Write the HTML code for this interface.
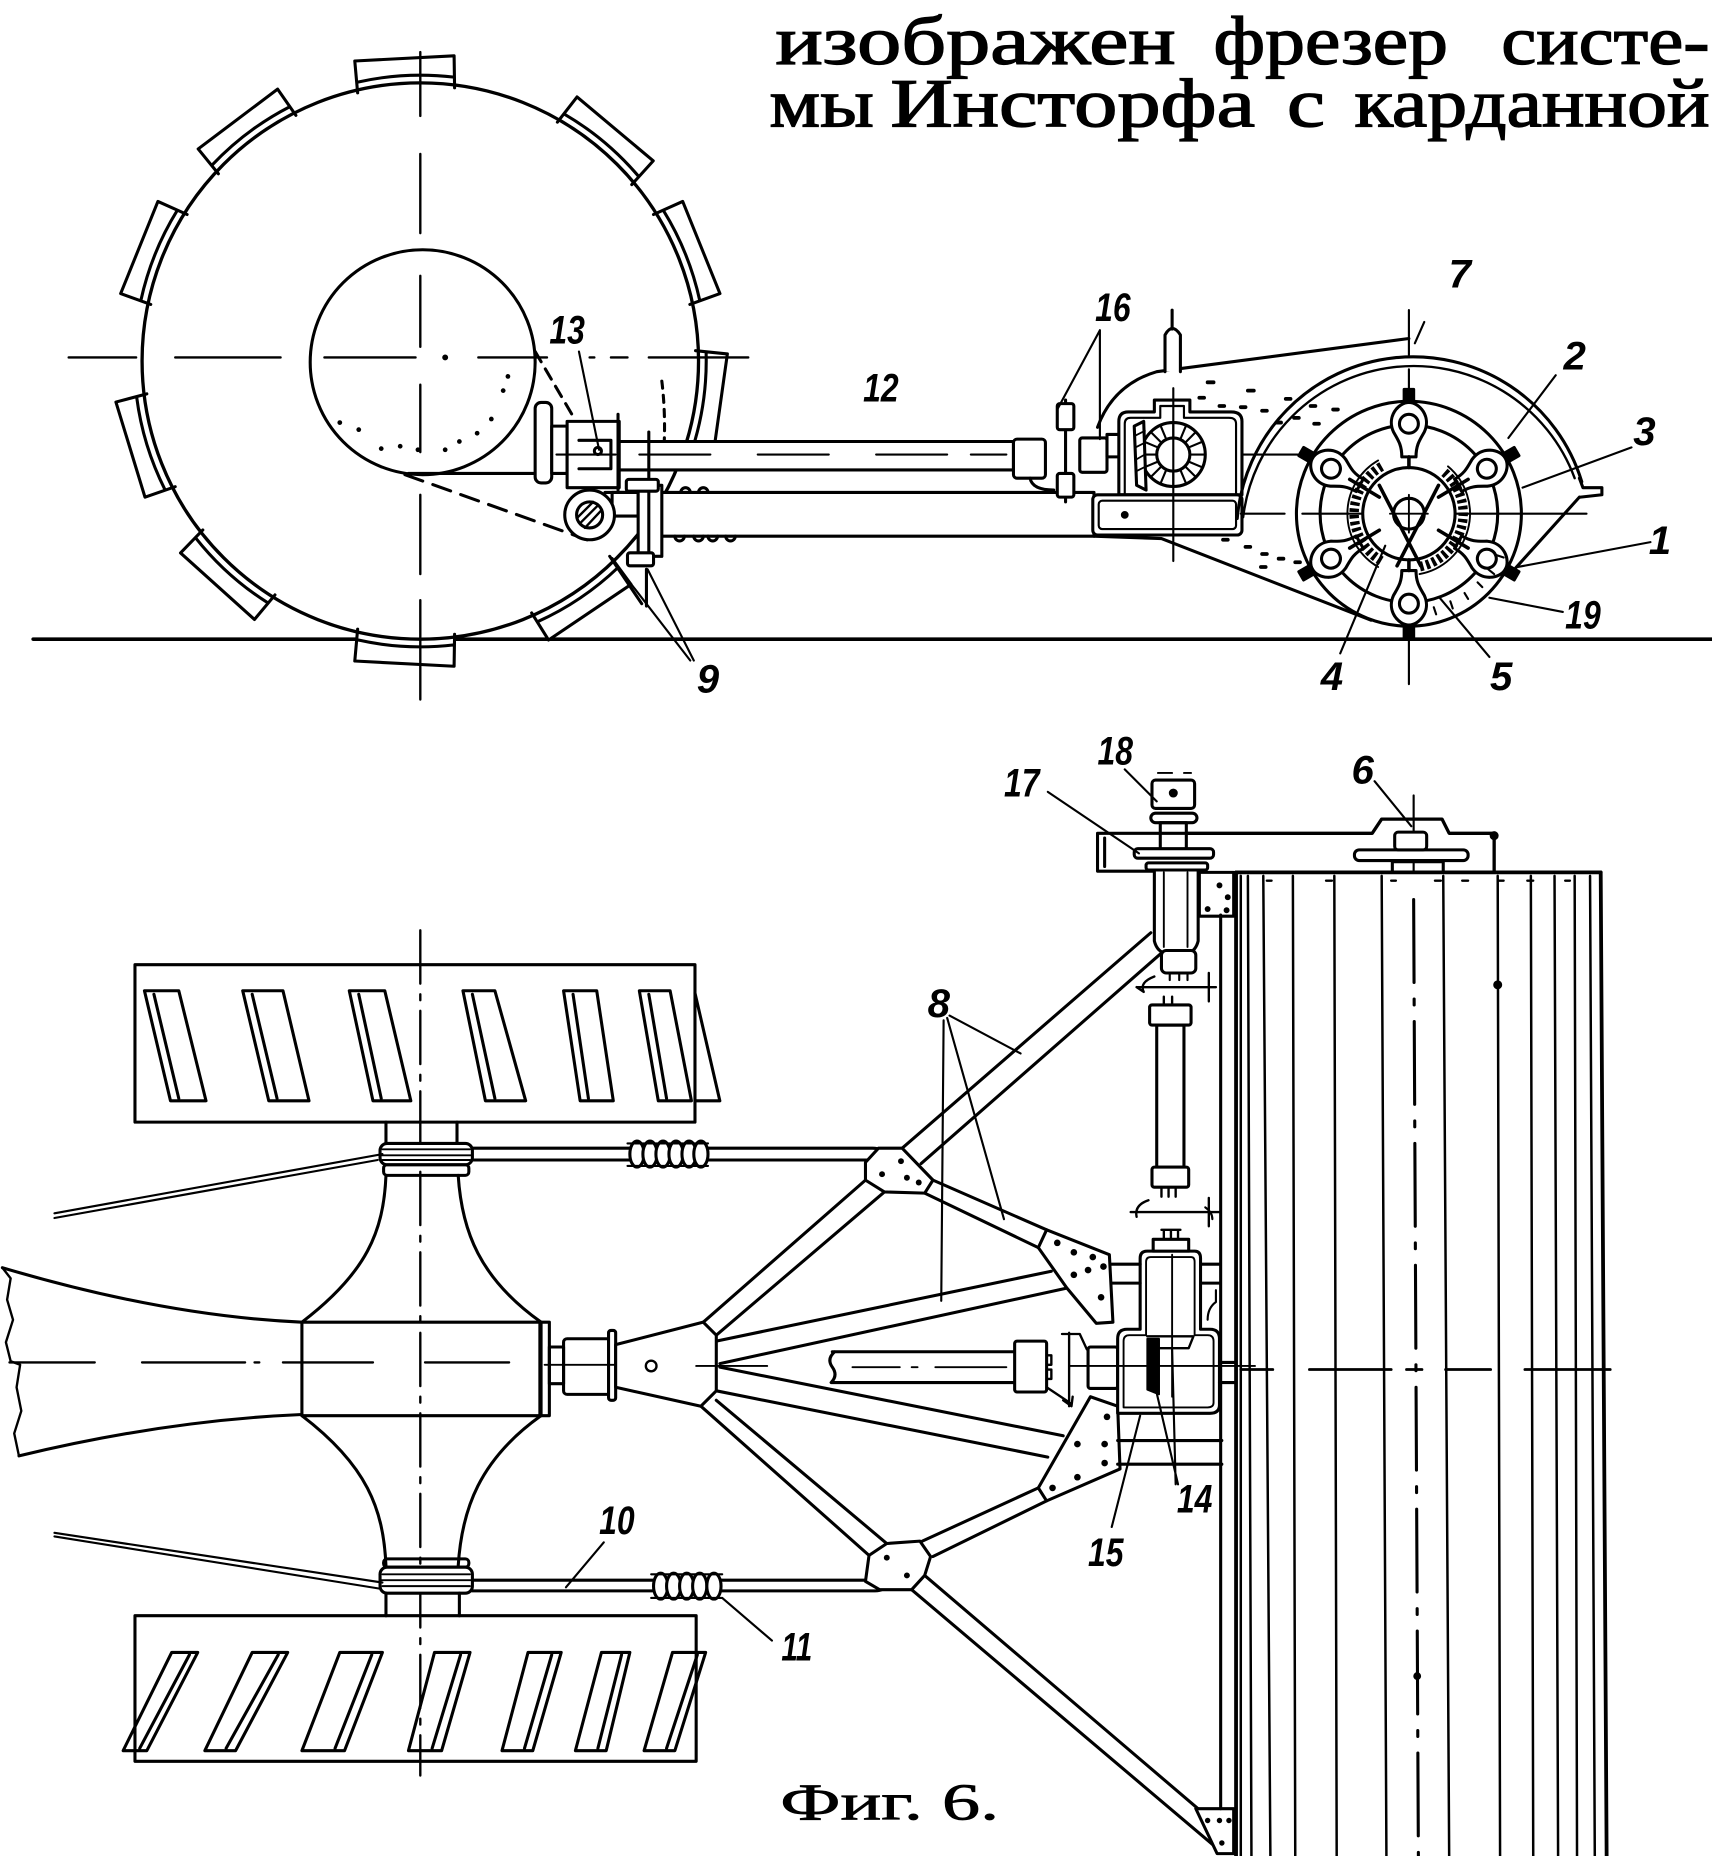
<!DOCTYPE html>
<html><head><meta charset="utf-8">
<style>
html,body{margin:0;padding:0;background:#fff;width:1712px;height:1856px;overflow:hidden}
svg{display:block}
</style></head><body>
<svg xmlns="http://www.w3.org/2000/svg" width="1712" height="1856" viewBox="0 0 1446 1568" preserveAspectRatio="none">
<rect width="1446" height="1568" fill="#fff"/>

<!-- heading text -->
<g font-family="'Liberation Serif','DejaVu Serif',serif" font-size="58" fill="#000" stroke="#000" stroke-width="1.1">
<text x="655" y="54" textLength="338" lengthAdjust="spacingAndGlyphs">изображен</text>
<text x="1025" y="54" textLength="198" lengthAdjust="spacingAndGlyphs">фрезер</text>
<text x="1268" y="54" textLength="176" lengthAdjust="spacingAndGlyphs">систе-</text>
<text x="650" y="107" textLength="88" lengthAdjust="spacingAndGlyphs">мы</text>
<text x="752" y="107" textLength="308" lengthAdjust="spacingAndGlyphs">Инсторфа</text>
<text x="1087" y="107" textLength="32" lengthAdjust="spacingAndGlyphs">с</text>
<text x="1144" y="107" textLength="300" lengthAdjust="spacingAndGlyphs">карданной</text>
</g>

<g fill="none" stroke="#000" stroke-width="2.6" stroke-linecap="round" stroke-linejoin="round">

<!-- ================= SIDE VIEW ================= -->
<line x1="28" y1="540" x2="1446" y2="540" stroke-width="3"/>

<!-- wheel lugs -->
<g fill="#fff">
<path transform="rotate(-3 355 305)" d="M314 76 L313 49 L397 49 L396 76 M314 67 Q355 60 396 67"/>
<path transform="rotate(-37 355 305)" d="M314 76 L313 49 L397 49 L396 76 M314 67 Q355 60 396 67"/>
<path transform="rotate(-68 355 305)" d="M314 76 L313 49 L397 49 L396 76 M314 67 Q355 60 396 67"/>
<path transform="rotate(-107 355 305)" d="M314 76 L313 49 L397 49 L396 76 M314 67 Q355 60 396 67"/>
<path transform="rotate(-138 355 305)" d="M314 76 L313 49 L397 49 L396 76 M314 67 Q355 60 396 67"/>
<path transform="rotate(183 355 305)" d="M314 76 L313 49 L397 49 L396 76 M314 67 Q355 60 396 67"/>
<path transform="rotate(146 355 305)" d="M314 76 L313 49 L397 49 L396 76 M314 67 Q355 60 396 67"/>
<path transform="rotate(98 355 305)" d="M314 76 L313 49 L397 49 L396 76 M314 67 Q355 60 396 67"/>
<path transform="rotate(68 355 305)" d="M314 76 L313 49 L397 49 L396 76 M314 67 Q355 60 396 67"/>
<path transform="rotate(40 355 305)" d="M314 76 L313 49 L397 49 L396 76 M314 67 Q355 60 396 67"/>
</g>
<circle cx="355" cy="305" r="235" stroke-width="2.8"/>
<circle cx="357" cy="306" r="95"/>
<!-- wheel centerlines -->
<path stroke-width="2" d="M58 302 H115 M148 302 H237 M274 302 H351 M404 302 H462 M498 302 H502 M516 302 H530 M548 302 H632"/>
<circle cx="376" cy="302" r="2.5" fill="#000" stroke="none"/>
<path stroke-width="2" d="M355 44 V98 M355 130 V197 M355 233 V293 M355 325 V382 M355 418 V485 M355 507 V591"/>
<!-- hub details -->
<path d="M345 400 H455"/>
<path d="M342 401 L496 456" stroke-dasharray="16 9"/>
<path d="M452 297 L483 350" stroke-dasharray="10 7"/>
<path d="M559 322 Q563 355 560 390" stroke-dasharray="6 6"/>
<g fill="#000" stroke="none">
<circle cx="429" cy="318" r="2"/><circle cx="425" cy="330" r="2"/><circle cx="415" cy="354" r="2"/>
<circle cx="403" cy="366" r="2"/><circle cx="388" cy="373" r="2"/><circle cx="376" cy="380" r="2"/>
<circle cx="353" cy="380" r="2"/><circle cx="338" cy="377" r="2"/><circle cx="322" cy="379" r="2"/>
<circle cx="303" cy="363" r="2"/><circle cx="287" cy="357" r="2"/>
</g>

<!-- flange, block 13, shaft 12 -->
<rect x="452" y="340" width="14" height="68" rx="5" fill="#fff"/>
<rect x="466" y="360" width="13" height="40" fill="#fff"/>
<rect x="479" y="356" width="44" height="56" fill="#fff"/>
<path d="M489 372 H516 V396 H489"/>
<circle cx="505" cy="381" r="3"/>
<rect x="523" y="373" width="333" height="24" fill="#fff"/>
<path stroke-width="1.8" d="M470 384 H520 M540 384 H600 M640 384 H700 M740 384 H800 M820 384 H850"/>
<path d="M522 350 V414"/>
<!-- lower beam -->
<rect x="558" y="416" width="366" height="37" fill="#fff"/>
<path d="M511 416 H558"/>
<path d="M570 453 a4 4 0 0 0 8 0 M586 453 a4 4 0 0 0 8 0 M598 453 a4 4 0 0 0 8 0 M613 453 a4 4 0 0 0 8 0"/>
<path d="M575 416 a4 4 0 0 1 8 0 M590 416 a4 4 0 0 1 8 0"/>
<!-- eye + plate -->
<rect x="517" y="416" width="22" height="20" fill="#fff"/>
<rect x="539" y="410" width="20" height="60" fill="#fff"/>
<path d="M548 365 V475"/>
<rect x="529" y="405" width="27" height="10" rx="2" fill="#fff"/>
<rect x="530" y="467" width="22" height="11" rx="2" fill="#fff"/>
<circle cx="498" cy="435" r="21" fill="#fff"/>
<circle cx="498" cy="435" r="11"/>
<path stroke-width="2" d="M490 442 L505 427 M494 446 L508 431 M488 437 L501 424"/>
<path d="M515 470 L542 510 M546 481 V512"/>

<!-- joint 16 -->
<rect x="856" y="371" width="27" height="33" rx="3" fill="#fff"/>
<path d="M870 404 Q872 414 890 414"/>
<path d="M900 338 V424"/>
<rect x="893" y="341" width="14" height="22" rx="2" fill="#fff"/>
<rect x="893" y="400" width="14" height="20" rx="2" fill="#fff"/>
<rect x="912" y="370" width="23" height="29" rx="2" fill="#fff"/>
<rect x="935" y="367" width="20" height="19" fill="#fff"/>

<!-- housing upper line and post -->
<path d="M927 361 Q940 325 977 314 L1190 286"/>
<path fill="#fff" d="M984 314 V283 Q990 272 997 283 V314"/>
<path d="M990 262 V278"/>
<!-- gear housing -->
<path fill="#fff" d="M945 418 V356 Q945 348 953 348 H975 V338 H1005 V348 H1040 Q1049 348 1049 356 V418 Z"/>
<path stroke-width="1.8" d="M950 418 V358 Q950 353 955 353 H980 V343 H1000 V353 H1038 Q1044 353 1044 358 V418"/>
<circle cx="991" cy="384" r="27" fill="#fff"/>
<circle cx="991" cy="384" r="14"/>
<path stroke-width="1.8" d="M1005 384 H1018 M977 384 H964 M991 370 V357 M991 398 V411 M1001 374 L1010 365 M981 374 L972 365 M1001 394 L1010 403 M981 394 L972 403 M1004 378 L1016 373 M1004 390 L1016 395 M978 378 L966 373 M978 390 L966 395 M985 371 L980 359 M997 371 L1002 359 M985 397 L980 409 M997 397 L1002 409"/>
<path fill="#fff" d="M958 360 L966 356 L968 414 L960 410 Z"/>
<path stroke-width="1.5" d="M959 368 L967 364 M959 378 L967 374 M960 388 L967 384 M960 398 L968 394"/>
<rect x="923" y="418" width="126" height="34" rx="4" fill="#fff"/>
<rect x="928" y="423" width="116" height="24" rx="3" stroke-width="1.8"/>
<circle cx="950" cy="435" r="2" fill="#000"/>
<path stroke-width="1.8" d="M991 328 V474 M1050 384 H1096"/>

<!-- chain cover / housing -->
<path d="M1045 438 A149 149 0 0 1 1336 407"/>
<path stroke-width="2" d="M1050 437 A145 145 0 0 1 1330 404"/>
<path d="M1334 404 L1337 412 L1353 412 L1353 418 L1335 420"/>
<path d="M1334 420 L1280 480"/>
<path d="M924 453 L981 455 L1158 524"/>
<g stroke-width="3.2">
<path d="M1020 323 h5 M1054 330 h5 M1013 336 h4 M1030 343 h4 M1048 344 h4 M1066 347 h4 M1086 337 h4 M1093 353 h4 M1107 343 h4 M1126 346 h4 M1110 358 h4 M1078 357 h4 M1033 456 h4 M1052 462 h4 M1066 468 h4 M1080 472 h4 M1094 475 h4 M1065 479 h4 M1110 484 h4"/>
</g>

<!-- rotor -->
<circle cx="1190" cy="434" r="95" fill="#fff"/>
<circle cx="1190" cy="434" r="75"/>
<path stroke-width="1.8" d="M1048 434 H1085 M1100 434 H1340"/>
<path stroke-width="1.8" d="M1190 262 V300 M1190 312 V578"/>
<g fill="#fff">
<g transform="rotate(0 1190 434)"><path d="M1177 365 C1171 352 1181 340 1190 340 C1199 340 1209 352 1203 365 C1199 372 1196 376 1196 386 L1184 386 C1184 376 1181 372 1177 365 Z"/><circle cx="1190" cy="358" r="8"/><rect x="1186" y="329" width="8" height="11" fill="#000"/></g>
<g transform="rotate(60 1190 434)"><path d="M1177 365 C1171 352 1181 340 1190 340 C1199 340 1209 352 1203 365 C1199 372 1196 376 1196 386 L1184 386 C1184 376 1181 372 1177 365 Z"/><circle cx="1190" cy="358" r="8"/><rect x="1186" y="329" width="8" height="11" fill="#000"/></g>
<g transform="rotate(120 1190 434)"><path d="M1177 365 C1171 352 1181 340 1190 340 C1199 340 1209 352 1203 365 C1199 372 1196 376 1196 386 L1184 386 C1184 376 1181 372 1177 365 Z"/><circle cx="1190" cy="358" r="8"/><rect x="1186" y="329" width="8" height="11" fill="#000"/></g>
<g transform="rotate(180 1190 434)"><path d="M1177 365 C1171 352 1181 340 1190 340 C1199 340 1209 352 1203 365 C1199 372 1196 376 1196 386 L1184 386 C1184 376 1181 372 1177 365 Z"/><circle cx="1190" cy="358" r="8"/><rect x="1186" y="329" width="8" height="11" fill="#000"/></g>
<g transform="rotate(240 1190 434)"><path d="M1177 365 C1171 352 1181 340 1190 340 C1199 340 1209 352 1203 365 C1199 372 1196 376 1196 386 L1184 386 C1184 376 1181 372 1177 365 Z"/><circle cx="1190" cy="358" r="8"/><rect x="1186" y="329" width="8" height="11" fill="#000"/></g>
<g transform="rotate(300 1190 434)"><path d="M1177 365 C1171 352 1181 340 1190 340 C1199 340 1209 352 1203 365 C1199 372 1196 376 1196 386 L1184 386 C1184 376 1181 372 1177 365 Z"/><circle cx="1190" cy="358" r="8"/><rect x="1186" y="329" width="8" height="11" fill="#000"/></g>
</g>
<circle cx="1190" cy="434" r="39" fill="#fff"/>
<circle cx="1190" cy="434" r="13"/>
<path stroke-width="1.6" d="M1190 418 V450 M1174 434 H1206"/>
<path stroke-width="3" d="M1190 386 V395 M1140 405 L1165 420 M1240 405 L1215 420 M1140 463 L1165 448 M1240 463 L1215 448 M1190 482 V473 M1165 410 L1200 478 M1215 410 L1180 478"/>
<path stroke-width="8" stroke-dasharray="3 2.5" stroke-linecap="butt" d="M1167 394 A46 46 0 0 0 1167 474"/>
<path stroke-width="8" stroke-dasharray="3 2.5" stroke-linecap="butt" d="M1220 399 A46 46 0 0 1 1198 479"/>
<path stroke-width="1.6" d="M1164 389 A52 52 0 0 0 1164 479 M1223 394 A52 52 0 0 1 1199 485"/>
<path stroke-width="1.8" d="M1264 469 L1270 471 M1257 481 L1262 485 M1248 492 L1252 496 M1237 501 L1240 506 M1225 508 L1227 514 M1211 513 L1213 519"/>

<!-- side view leaders -->
<g stroke-width="1.8">
<path d="M489 297 L506 380"/>
<path d="M929 279 L893 346 M929 279 L929 371"/>
<path d="M1203 272 L1195 290"/>
<path d="M1314 317 L1274 370"/>
<path d="M1378 378 L1286 412"/>
<path d="M1394 458 L1282 479"/>
<path d="M1320 517 L1258 505"/>
<path d="M1132 552 L1170 461"/>
<path d="M1258 555 L1216 505"/>
<path d="M583 558 L515 470 M586 558 L547 481"/>
</g>

<!-- ================= PLAN VIEW ================= -->
<!-- upper track -->
<rect x="114" y="815" width="473" height="133"/>
<path d="M122 837 L151 837 L174 930 L144 930 Z M130 840 L151 928"/>
<path d="M205 837 L239 837 L261 930 L227 930 Z M213 840 L234 928"/>
<path d="M295 837 L325 837 L347 930 L315 930 Z M303 840 L322 928"/>
<path d="M391 837 L418 837 L444 930 L410 930 Z M399 840 L418 928"/>
<path d="M476 837 L504 837 L518 930 L490 930 Z M484 840 L497 928"/>
<path d="M540 837 L566 837 L584 930 L556 930 Z M548 840 L563 928"/>
<path d="M587 839 L608 930 L587 930"/>
<!-- lower track -->
<rect x="114" y="1365" width="474" height="123"/>
<path d="M145 1396 L167 1396 L124 1479 L104 1479 Z M160 1398 L118 1477"/>
<path d="M213 1396 L243 1396 L199 1479 L173 1479 Z M235 1398 L191 1477"/>
<path d="M287 1396 L323 1396 L291 1479 L255 1479 Z M314 1398 L283 1477"/>
<path d="M367 1396 L397 1396 L373 1479 L345 1479 Z M389 1398 L365 1477"/>
<path d="M446 1396 L474 1396 L450 1479 L424 1479 Z M466 1398 L443 1477"/>
<path d="M508 1396 L532 1396 L512 1479 L486 1479 Z M525 1398 L505 1477"/>
<path d="M568 1396 L596 1396 L570 1479 L544 1479 Z M589 1398 L563 1477"/>
<!-- axle centerline -->
<path stroke-width="2" d="M355 786 V1500" stroke-dasharray="45 9 5 9"/>
<!-- hub spool -->
<path d="M326 948 V966 M386 948 V966"/>
<rect x="321" y="966" width="78" height="18" rx="6" fill="#fff"/>
<path stroke-width="1.6" d="M323 971 H397 M322 976 H398 M323 980 H397"/>
<rect x="324" y="984" width="72" height="9" rx="3"/>
<path d="M326 993 C324 1040 310 1075 255 1117 M387 993 C390 1040 405 1080 457 1117"/>
<path d="M255 1196 C310 1238 324 1275 326 1323 M457 1196 C405 1233 390 1275 387 1323"/>
<rect x="255" y="1117" width="202" height="79"/>
<rect x="456" y="1117" width="8" height="79"/>
<rect x="324" y="1317" width="72" height="7" rx="3"/>
<rect x="321" y="1324" width="78" height="22" rx="6" fill="#fff"/>
<path stroke-width="1.6" d="M323 1330 H397 M322 1335 H398 M323 1340 H397"/>
<path d="M326 1346 V1365 M388 1346 V1365"/>
<!-- tractor body -->
<path d="M2 1071 Q140 1112 255 1117"/>
<path d="M16 1230 Q140 1200 255 1195"/>
<path stroke-width="2" d="M2 1071 L9 1080 L6 1098 L11 1115 L5 1134 L9 1150 L17 1153 L14 1172 L18 1192 L12 1211 L16 1230"/>
<path stroke-width="2" d="M8 1151 H80 M120 1151 H207 M215 1151 H219 M239 1151 H315 M359 1151 H430"/>
<!-- tie rods -->
<path stroke-width="1.8" d="M46 1025 L323 975 M46 1029 L319 980"/>
<path stroke-width="1.8" d="M46 1295 L323 1337 M46 1298 L320 1342"/>
<path d="M399 970 H737 Q745 970 745 975 Q745 980 737 980 H399"/>
<path d="M399 1335 H739 Q747 1335 747 1339.5 Q747 1344 739 1344 H399"/>
<g fill="#fff">
<ellipse cx="538" cy="975" rx="6" ry="11"/><ellipse cx="549" cy="975" rx="6" ry="11"/><ellipse cx="560" cy="975" rx="6" ry="11"/><ellipse cx="571" cy="975" rx="6" ry="11"/><ellipse cx="582" cy="975" rx="6" ry="11"/><ellipse cx="592" cy="975" rx="6" ry="11"/>
<ellipse cx="558" cy="1340" rx="6" ry="11"/><ellipse cx="569" cy="1340" rx="6" ry="11"/><ellipse cx="580" cy="1340" rx="6" ry="11"/><ellipse cx="591" cy="1340" rx="6" ry="11"/><ellipse cx="603" cy="1340" rx="6" ry="11"/>
</g>
<path stroke-width="1.8" d="M530 966 H598 M530 985 H598 M550 1330 H610 M550 1350 H610"/>

<!-- coupling -->
<rect x="464" y="1138" width="12" height="31"/>
<rect x="476" y="1131" width="40" height="47" rx="3"/>
<rect x="514" y="1124" width="6" height="59" rx="2" fill="#fff"/>
<path stroke-width="1.6" d="M460 1153 H530"/>

<!-- frame bars -->
<path d="M594 1117 L731 997 M605 1128 L747 1007"/>
<path d="M762 970 L972 788 M778 983 L980 806"/>
<path d="M788 997 L884 1039 M781 1008 L877 1054"/>
<path d="M605 1133 L888 1074 M608 1152 L902 1088"/>
<path d="M608 1155 L898 1213 M605 1175 L885 1231"/>
<path d="M592 1188 L734 1314 M605 1183 L749 1304"/>
<path d="M877 1257 L779 1302 M884 1268 L788 1315"/>
<path d="M781 1331 L1013 1529 M770 1343 L1025 1559"/>
<!-- center plate -->
<path fill="#fff" d="M520 1136 L594 1117 L605 1128 L605 1175 L592 1188 L520 1172 Z"/>
<circle cx="550" cy="1154" r="4.5" stroke-width="2"/>
<path stroke-width="1.6" d="M588 1154 H648"/>
<!-- nodes -->
<path fill="#fff" d="M731 982 L742 970 L762 970 L788 997 L781 1008 L747 1007 L731 997 Z"/>
<path fill="#fff" d="M734 1314 L749 1304 L777 1302 L786 1315 L781 1331 L770 1343 L743 1343 L731 1336 Z"/>
<!-- gussets -->
<path fill="#fff" d="M884 1039 L937 1060 L940 1117 L926 1118 L901 1088 L877 1054 Z"/>
<path fill="#fff" d="M921 1180 L944 1188 L946 1241 L884 1268 L877 1257 Z"/>
<path fill="#fff" d="M1010 1528 L1042 1528 L1042 1566 L1028 1566 Z"/>
<g fill="#000" stroke="none">
<circle cx="761" cy="981" r="2.5"/><circle cx="766" cy="995" r="2.5"/><circle cx="776" cy="999" r="2.5"/><circle cx="745" cy="992" r="2.5"/>
<circle cx="749" cy="1316" r="2.5"/><circle cx="766" cy="1331" r="2.5"/>
<circle cx="893" cy="1050" r="2.8"/><circle cx="907" cy="1058" r="2.8"/><circle cx="923" cy="1062" r="2.8"/><circle cx="932" cy="1070" r="2.8"/><circle cx="919" cy="1073" r="2.8"/><circle cx="907" cy="1077" r="2.8"/><circle cx="930" cy="1096" r="2.8"/>
<circle cx="935" cy="1197" r="2.8"/><circle cx="910" cy="1220" r="2.8"/><circle cx="933" cy="1220" r="2.8"/><circle cx="933" cy="1236" r="2.8"/><circle cx="910" cy="1248" r="2.8"/><circle cx="889" cy="1257" r="2.8"/>
<circle cx="1020" cy="1538" r="2.3"/><circle cx="1030" cy="1538" r="2.3"/><circle cx="1038" cy="1538" r="2.3"/><circle cx="1032" cy="1557" r="2.3"/>
</g>

<!-- horizontal cardan shaft (plan) -->
<path d="M703 1142 H857 M703 1168 H857 M705 1142 Q698 1148 703 1155 Q708 1162 702 1168"/>
<path stroke-width="1.6" d="M720 1155 H760 M770 1155 H775 M790 1155 H850"/>
<rect x="857" y="1133" width="27" height="43" rx="2" fill="#fff"/>
<path stroke-width="2" d="M884 1145 h4 v8 h-4 M884 1157 h4 v8 h-4"/>
<path stroke-width="2" d="M903 1126 V1188 M897 1127 H912 L918 1140 M884 1172 L905 1186 M898 1183 L905 1188 L906 1180"/>
<rect x="919" y="1138" width="25" height="35" rx="2" fill="#fff"/>
<!-- lower gearbox -->
<path fill="#fff" d="M944 1194 V1131 Q944 1123 952 1123 H963 V1063 Q963 1057 969 1057 H1009 Q1014 1057 1014 1063 V1123 H1022 Q1030 1123 1030 1131 V1187 Q1030 1194 1022 1194 Z"/>
<path stroke-width="1.6" d="M949 1189 V1133 Q949 1128 954 1128 H968 V1066 Q968 1062 972 1062 H1006 Q1009 1062 1009 1066 V1128 H1020 Q1025 1128 1025 1133 V1185 Q1025 1189 1020 1189 Z"/>
<rect x="974" y="1047" width="30" height="10" fill="#fff"/>
<path stroke-width="2" d="M983 1039 V1047 M989 1039 V1047 M995 1039 V1047 M981 1039 H997"/>
<path fill="#000" stroke-width="1.5" d="M969 1131 L979 1131 L979 1178 L969 1174 Z"/>
<path stroke-width="2" d="M969 1129 H1008 L1004 1139 H979"/>
<path stroke-width="1.6" d="M990 1060 V1180 M903 1154 H1060"/>
<path d="M1030 1151 H1044 M1030 1168 H1044"/>
<path d="M944 1217 H1032 M944 1237 H1032 M939 1068 H963 M939 1084 H963 M1014 1068 H1030 M1014 1084 H1030"/>
<path stroke-width="1.8" d="M1020 1115 Q1020 1105 1027 1100 V1090"/>
<!-- vertical cardan -->
<path stroke-width="2" d="M960 834 H1027 M1021 822 V846 M975 825 Q962 830 966 838 L960 834"/>
<rect x="971" y="849" width="35" height="17" rx="2" fill="#fff"/>
<path stroke-width="2" d="M983 842 V849 M990 842 V849"/>
<rect x="977" y="866" width="23" height="120"/>
<rect x="973" y="986" width="31" height="17" rx="2" fill="#fff"/>
<path stroke-width="2" d="M981 1003 V1011 M987 1003 V1011 M993 1003 V1011"/>
<path stroke-width="2" d="M955 1024 H1030 M1021 1012 V1036 M970 1014 Q958 1018 960 1028"/>
<path stroke-width="1.8" d="M1024 1030 Q1024 1024 1018 1020"/>
<!-- top bearing 17/18 -->
<path stroke-width="1.6" d="M978 653 H990 M1000 653 H1006"/>
<rect x="973" y="659" width="36" height="24" rx="3" fill="#fff"/>
<circle cx="991" cy="670" r="2.5" fill="#000"/>
<rect x="972" y="687" width="39" height="8" rx="4" fill="#fff"/>
<rect x="980" y="695" width="22" height="23"/>
<path d="M927 704 H1004 M927 704 V736 M927 736 H975 M933 708 V732"/>
<rect x="958" y="717" width="67" height="8" rx="3" fill="#fff"/>
<rect x="968" y="729" width="52" height="6" rx="2"/>
<path fill="#fff" d="M975 735 V795 Q977 803 983 805 H1004 Q1010 803 1012 795 V735 Z"/>
<path stroke-width="1.6" d="M983 737 V800 M1003 737 V800"/>
<rect x="981" y="803" width="29" height="19" rx="4" fill="#fff"/>
<path stroke-width="1.8" d="M988 822 V828 M996 822 V828 M1003 822 V828"/>
<rect x="1013" y="737" width="29" height="37"/>
<g fill="#000" stroke="none"><circle cx="1030" cy="748" r="2.5"/><circle cx="1037" cy="758" r="2.5"/><circle cx="1020" cy="768" r="2.5"/><circle cx="1036" cy="769" r="2.5"/></g>
<path d="M1031 773 V1528"/>
<!-- chain case top (plan) -->
<path d="M1004 704 H1159 L1167 692 H1218 L1224 704 H1262 V737" stroke-width="2.8"/>
<circle cx="1262" cy="706" r="2.5" fill="#000"/>
<path stroke-width="1.8" d="M1194 672 V737"/>
<rect x="1144" y="718" width="96" height="9" rx="4" fill="#fff"/>
<rect x="1178" y="703" width="27" height="15" rx="3" fill="#fff"/>
<rect x="1176" y="728" width="43" height="9"/>

<!-- drum -->
<path stroke-width="3.2" d="M1044 737 H1352"/>
<path stroke-width="3.2" d="M1044 737 V1568 M1352 737 L1357 1568"/>
<path stroke-width="2.1" d="M1048 740 V1568 M1054 740 L1057 1568 M1067 740 L1073 1568 M1092 740 L1094 1568 M1127 740 L1129 1568 M1167 740 L1171 1568 M1219 740 L1224 1568 M1265 740 L1267 1568 M1293 740 L1295 1568 M1313 740 L1316 1568 M1330 740 L1332 1568 M1343 740 L1347 1568"/>
<path stroke-width="2" d="M1070 744 h4 M1120 744 h5 M1175 744 h4 M1212 744 h5 M1235 744 h5 M1265 744 h5 M1290 744 h5 M1322 744 h4"/>
<path stroke-width="2.6" d="M1194 760 L1198 1568" stroke-dasharray="70 14 5 14"/>
<path stroke-width="2.4" d="M1048 1157 H1075 M1106 1157 H1175 M1188 1157 H1201 M1221 1157 H1259 M1288 1157 H1360"/>
<circle cx="1265" cy="832" r="2.5" fill="#000"/>
<circle cx="1197" cy="1416" r="2" fill="#000"/>

<!-- plan leaders -->
<g stroke-width="1.8">
<path d="M950 650 L977 677"/>
<path d="M885 669 L962 721"/>
<path d="M1161 660 L1192 698"/>
<path d="M802 858 L862 890 M800 860 L848 1030 M797 862 L795 1099"/>
<path d="M510 1303 L478 1341"/>
<path d="M652 1386 L610 1350"/>
<path d="M939 1290 L963 1196"/>
<path d="M995 1254 L977 1177 M993 1254 L990 1140"/>
</g>
</g>

<!-- number labels -->
<g font-family="'Liberation Sans','DejaVu Sans',sans-serif" font-style="italic" font-weight="bold" font-size="34" fill="#000" text-anchor="middle">
<text x="479" y="290" textLength="30" lengthAdjust="spacingAndGlyphs">13</text>
<text x="744" y="339" textLength="30" lengthAdjust="spacingAndGlyphs">12</text>
<text x="940" y="271" textLength="30" lengthAdjust="spacingAndGlyphs">16</text>
<text x="1233" y="243">7</text>
<text x="1330" y="312">2</text>
<text x="1389" y="376">3</text>
<text x="1402" y="468">1</text>
<text x="1337" y="531" textLength="30" lengthAdjust="spacingAndGlyphs">19</text>
<text x="1125" y="583">4</text>
<text x="1268" y="583">5</text>
<text x="598" y="585">9</text>
<text x="942" y="646" textLength="30" lengthAdjust="spacingAndGlyphs">18</text>
<text x="863" y="673" textLength="30" lengthAdjust="spacingAndGlyphs">17</text>
<text x="1151" y="662">6</text>
<text x="793" y="859">8</text>
<text x="521" y="1296" textLength="30" lengthAdjust="spacingAndGlyphs">10</text>
<text x="673" y="1403" textLength="26" lengthAdjust="spacingAndGlyphs">11</text>
<text x="934" y="1323" textLength="30" lengthAdjust="spacingAndGlyphs">15</text>
<text x="1009" y="1278" textLength="30" lengthAdjust="spacingAndGlyphs">14</text>
</g>

<text x="659" y="1537" font-family="'Liberation Serif','DejaVu Serif',serif" font-size="44" fill="#000" stroke="#000" stroke-width="0.6" textLength="185" lengthAdjust="spacingAndGlyphs">Фиг. 6.</text>
</svg>
</body></html>
